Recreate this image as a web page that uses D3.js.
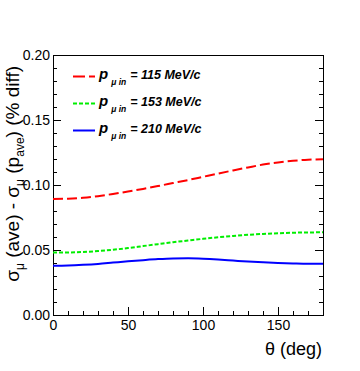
<!DOCTYPE html>
<style>
  body { margin: 0; background: white; }
  svg { font-family: "Liberation Sans", Arial, sans-serif; }
  .axis text { font-size: 14px; fill: #000; }
  .axis path { display: none; }
  .axis line { stroke: #000; }
</style>
<body>
</body>
<script src="https://cdn.jsdelivr.net/npm/d3@7"></script>
<script>
  const w = 360, h = 371;
  const l = 53, r = 323, t = 55, b = 315;

  // data, every 10 deg
  const theta = [0, 10, 20, 30, 40, 50, 60, 70, 80, 90, 100, 110, 120, 130, 140, 150, 160, 170, 180];
  const p115 = [0.0892, 0.0895, 0.0902, 0.0914, 0.0931, 0.0950, 0.0970, 0.0992, 0.1015, 0.1038,
                0.1063, 0.1088, 0.1112, 0.1135, 0.1157, 0.1173, 0.1186, 0.1195, 0.1198];
  const p153 = [0.0480, 0.0481, 0.0485, 0.0492, 0.0502, 0.0515, 0.0530, 0.0545, 0.0560, 0.0573,
                0.0586, 0.0598, 0.0608, 0.0617, 0.0624, 0.0629, 0.0633, 0.0635, 0.0636];
  const p210 = [0.0379, 0.0381, 0.0386, 0.0393, 0.0403, 0.0413, 0.0422, 0.0430, 0.0435, 0.0436,
                0.0433, 0.0427, 0.0419, 0.0411, 0.0405, 0.0400, 0.0397, 0.0395, 0.0395];
  const momenta = ['115', '153', '210'];
  const xTicks = [0, 50, 100, 150];
  const yTicks = [0, 0.05, 0.10, 0.15, 0.20];

  const series = [
    {p: momenta[0], values: p115, color: '#ff0000', dash: '10,4'},
    {p: momenta[1], values: p153, color: '#00ee00', dash: '4,2'},
    {p: momenta[2], values: p210, color: '#0000ff', dash: null},
  ];

  const svg = d3.select('body').append('svg')
    .attr('width', w)
    .attr('height', h);

  const x = d3.scaleLinear().domain([0, 180]).range([l, r]);
  const y = d3.scaleLinear().domain([0, 0.2]).range([b, t]);

  // minor ticks
  const yMinor = d3.range(0, 0.2001, 0.01);
  const xMinor = d3.range(0, 181, 10);

  svg.append('g').attr('class', 'axis')
    .attr('transform', `translate(${l},0)`)
    .call(d3.axisLeft(y).tickValues(yMinor).tickSize(-4).tickFormat(''));
  svg.append('g').attr('class', 'axis')
    .attr('transform', `translate(${l},0)`)
    .call(d3.axisLeft(y).tickValues(yTicks).tickSize(-8).tickPadding(3)
            .tickFormat(d3.format('.2f')));

  svg.append('g').attr('class', 'axis')
    .attr('transform', `translate(${r},0)`)
    .call(d3.axisRight(y).tickValues(yMinor).tickSize(-4).tickFormat(''));
  svg.append('g').attr('class', 'axis')
    .attr('transform', `translate(${r},0)`)
    .call(d3.axisRight(y).tickValues(yTicks).tickSize(-8).tickFormat(''));

  svg.append('g').attr('class', 'axis')
    .attr('transform', `translate(0,${b})`)
    .call(d3.axisBottom(x).tickValues(xMinor).tickSize(-4).tickFormat(''));
  svg.append('g').attr('class', 'axis')
    .attr('transform', `translate(0,${b})`)
    .call(d3.axisBottom(x).tickValues(xTicks).tickSize(-8).tickPadding(6)
            .tickFormat(d3.format('d')))
    .call(g => g.selectAll('text').attr('dy', '0.71em').attr('y', 5));

  // frame
  svg.append('rect')
    .attr('x', l + 0.5).attr('y', t + 0.5)
    .attr('width', r - l).attr('height', b - t)
    .attr('fill', 'none').attr('stroke', '#000');

  // curves
  const line = d3.line()
    .x((d, i) => x(theta[i]))
    .y(d => y(d))
    .curve(d3.curveMonotoneX);

  svg.append('g').selectAll('path')
    .data(series)
    .join('path')
    .attr('d', d => line(d.values))
    .attr('fill', 'none')
    .attr('stroke', d => d.color)
    .attr('stroke-width', 2)
    .attr('stroke-dasharray', d => d.dash);

  // legend
  const leg = svg.append('g').selectAll('g')
    .data(series)
    .join('g')
    .attr('transform', (d, i) => `translate(73, ${76.5 + i * 27})`);

  leg.append('line')
    .attr('x1', 0).attr('x2', 22)
    .attr('stroke', d => d.color)
    .attr('stroke-width', 2)
    .attr('stroke-dasharray', (d, i) => i === 0 ? '12,4' : d.dash);

  const lt = leg.append('text')
    .attr('x', 26).attr('y', 2)
    .attr('font-weight', 'bold')
    .attr('font-style', 'italic')
    .attr('font-size', 12.5);
  lt.append('tspan').attr('font-size', 15).text('p');
  lt.append('tspan').attr('font-size', 8.5).attr('dy', 6).attr('dx', 3).text('\u03bc  in');
  lt.append('tspan').attr('dy', -6).attr('dx', 4).text(d => `= ${d.p} MeV/c`);

  // axis titles
  svg.append('text')
    .attr('x', 322).attr('y', 355)
    .attr('text-anchor', 'end')
    .attr('font-size', 18)
    .text('\u03b8 (deg)');

  const yt = svg.append('text')
    .attr('transform', 'translate(19, 66) rotate(-90)')
    .attr('text-anchor', 'end')
    .attr('font-size', 19);
  yt.append('tspan').text('\u03c3');
  yt.append('tspan').attr('font-size', 12).attr('dy', 5).text('\u03bc');
  yt.append('tspan').attr('dy', -5).text(' (ave) - \u03c3');
  yt.append('tspan').attr('font-size', 12).attr('dy', 5).text('\u03bc');
  yt.append('tspan').attr('dy', -5).text(' (p');
  yt.append('tspan').attr('font-size', 12).attr('dy', 5).text('ave');
  yt.append('tspan').attr('dy', -5).text(') (% diff)');
</script>
